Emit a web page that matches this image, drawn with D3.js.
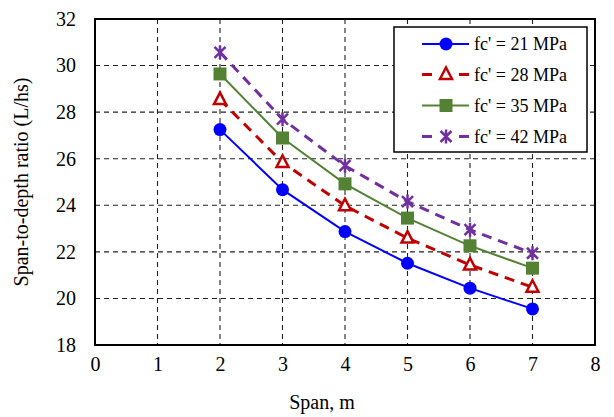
<!DOCTYPE html>
<html>
<head>
<meta charset="utf-8">
<script src="https://cdn.jsdelivr.net/npm/d3@7"></script>
</head>
<body style="margin:0">
<div id="chart"></div>
<script>
// values
var spans = [2, 3, 4, 5, 6, 7]
var fc21 = [27.25, 24.67, 22.87, 21.51, 20.44, 19.55]
var fc28 = [28.54, 25.84, 23.98, 22.59, 21.44, 20.48]
var fc35 = [29.64, 26.89, 24.92, 23.45, 22.26, 21.30]
var fc42 = [30.57, 27.70, 25.70, 24.16, 22.95, 21.94]
var seriesNames = ["fc' = 21 MPa", "fc' = 28 MPa", "fc' = 35 MPa", "fc' = 42 MPa"]
var xTicks = [0, 1, 2, 3, 4, 5, 6, 7, 8]
var yTicks = [18, 20, 22, 24, 26, 28, 30, 32]

var width = 614, height = 417
var plotLeft = 95, plotRight = 595, plotTop = 19, plotBottom = 345
var serif = "'Liberation Serif'"

var series = [
    { name: seriesNames[0], values: fc21, color: "#0000ff", dash: null, marker: "circle" },
    { name: seriesNames[1], values: fc28, color: "#c00000", dash: "10,7", marker: "triangle" },
    { name: seriesNames[2], values: fc35, color: "#548235", dash: null, marker: "square" },
    { name: seriesNames[3], values: fc42, color: "#7030a0", dash: "10,7", marker: "star" }
]

const svg = d3.select("#chart")
    .append("svg")
    .attr("width", width)
    .attr("height", height)

svg.append("rect").attr("width", width).attr("height", height).attr("fill", "#fff")

var xScale = d3.scaleLinear().domain([0, 8]).range([plotLeft, plotRight])
var yScale = d3.scaleLinear().domain([18, 32]).range([plotBottom, plotTop])

// dashed grid
svg.append("g")
    .selectAll("line")
    .data(xTicks.slice(1, -1))
    .enter()
    .append("line")
    .attr("x1", d => xScale(d)).attr("x2", d => xScale(d))
    .attr("y1", plotTop).attr("y2", plotBottom)
    .attr("stroke", "#222").attr("stroke-width", 1.1).attr("stroke-dasharray", "5,4")
svg.append("g")
    .selectAll("line")
    .data(yTicks.slice(1, -1))
    .enter()
    .append("line")
    .attr("y1", d => yScale(d)).attr("y2", d => yScale(d))
    .attr("x1", plotLeft).attr("x2", plotRight)
    .attr("stroke", "#222").attr("stroke-width", 1.1).attr("stroke-dasharray", "5,4")

// axes, labels only
svg.append("g")
    .attr("transform", "translate(0," + plotBottom + ")")
    .call(d3.axisBottom(xScale).tickValues(xTicks).tickSize(0).tickPadding(12).tickFormat(d3.format("d")))
    .call(g => g.select(".domain").remove())
    .call(g => g.selectAll("text").style("font-family", serif).style("font-size", "20px").attr("fill", "#000"))
svg.append("g")
    .attr("transform", "translate(" + plotLeft + ",0)")
    .call(d3.axisLeft(yScale).tickValues(yTicks).tickSize(0).tickPadding(19).tickFormat(d3.format("d")))
    .call(g => g.select(".domain").remove())
    .call(g => g.selectAll("text").style("font-family", serif).style("font-size", "20px").attr("fill", "#000"))

svg.append("text")
    .attr("x", (plotLeft + plotRight) / 2 - 23).attr("y", 409)
    .attr("text-anchor", "middle")
    .style("font-family", serif).style("font-size", "20px")
    .text("Span, m")
svg.append("text")
    .attr("transform", "translate(28," + ((plotTop + plotBottom) / 2) + ") rotate(-90)")
    .attr("text-anchor", "middle")
    .style("font-family", serif).style("font-size", "20px")
    .text("Span-to-depth ratio (L/hs)")

// marker drawing
function drawMarker(g, type, color) {
    if (type === "circle") {
        g.append("circle").attr("r", 6.5).attr("fill", color)
    } else if (type === "square") {
        g.append("rect").attr("x", -6.5).attr("y", -6.5).attr("width", 13).attr("height", 13).attr("fill", color)
    } else if (type === "triangle") {
        g.append("path").attr("d", "M0,-7L6,4.5L-6,4.5Z")
            .attr("fill", "#fff").attr("stroke", color).attr("stroke-width", 2.5)
    } else {
        g.append("path").attr("d", "M-5.5,-5.5L5.5,5.5M-5.5,5.5L5.5,-5.5M0,-7L0,7")
            .attr("fill", "none").attr("stroke", color).attr("stroke-width", 2.5)
    }
}

var line = d3.line()
    .x(d => xScale(d[0]))
    .y(d => yScale(d[1]))

series.forEach(s => {
    var pts = spans.map((x, i) => [x, s.values[i]])
    svg.append("path")
        .datum(pts)
        .attr("d", line)
        .attr("fill", "none")
        .attr("stroke", s.color)
        .attr("stroke-width", s.dash ? 3 : 2)
        .attr("stroke-dasharray", s.dash)
    pts.forEach(p => {
        var g = svg.append("g").attr("transform", "translate(" + xScale(p[0]) + "," + yScale(p[1]) + ")")
        drawMarker(g, s.marker, s.color)
    })
})

// plot frame
svg.append("rect")
    .attr("x", plotLeft).attr("y", plotTop)
    .attr("width", plotRight - plotLeft).attr("height", plotBottom - plotTop)
    .attr("fill", "none").attr("stroke", "#000").attr("stroke-width", 2)

// legend
var legend = svg.append("g")
legend.append("rect")
    .attr("x", 394).attr("y", 27).attr("width", 193).attr("height", 125)
    .attr("fill", "#fff").attr("stroke", "#000").attr("stroke-width", 1.5)
var rowY = [44, 74.5, 105.5, 136.5]
series.forEach((s, i) => {
    var row = legend.append("g").attr("transform", "translate(0," + rowY[i] + ")")
    if (s.dash) {
        row.append("line").attr("x1", 422).attr("x2", 432).attr("y1", 0).attr("y2", 0)
            .attr("stroke", s.color).attr("stroke-width", 3)
        row.append("line").attr("x1", 459).attr("x2", 469).attr("y1", 0).attr("y2", 0)
            .attr("stroke", s.color).attr("stroke-width", 3)
    } else {
        row.append("line").attr("x1", 422).attr("x2", 469).attr("y1", 0).attr("y2", 0)
            .attr("stroke", s.color).attr("stroke-width", 2)
    }
    drawMarker(row.append("g").attr("transform", "translate(446,0)"), s.marker, s.color)
    row.append("text")
        .attr("x", 474).attr("y", 6)
        .style("font-family", serif).style("font-size", "18px")
        .text(s.name)
})
</script>
</body>
</html>
